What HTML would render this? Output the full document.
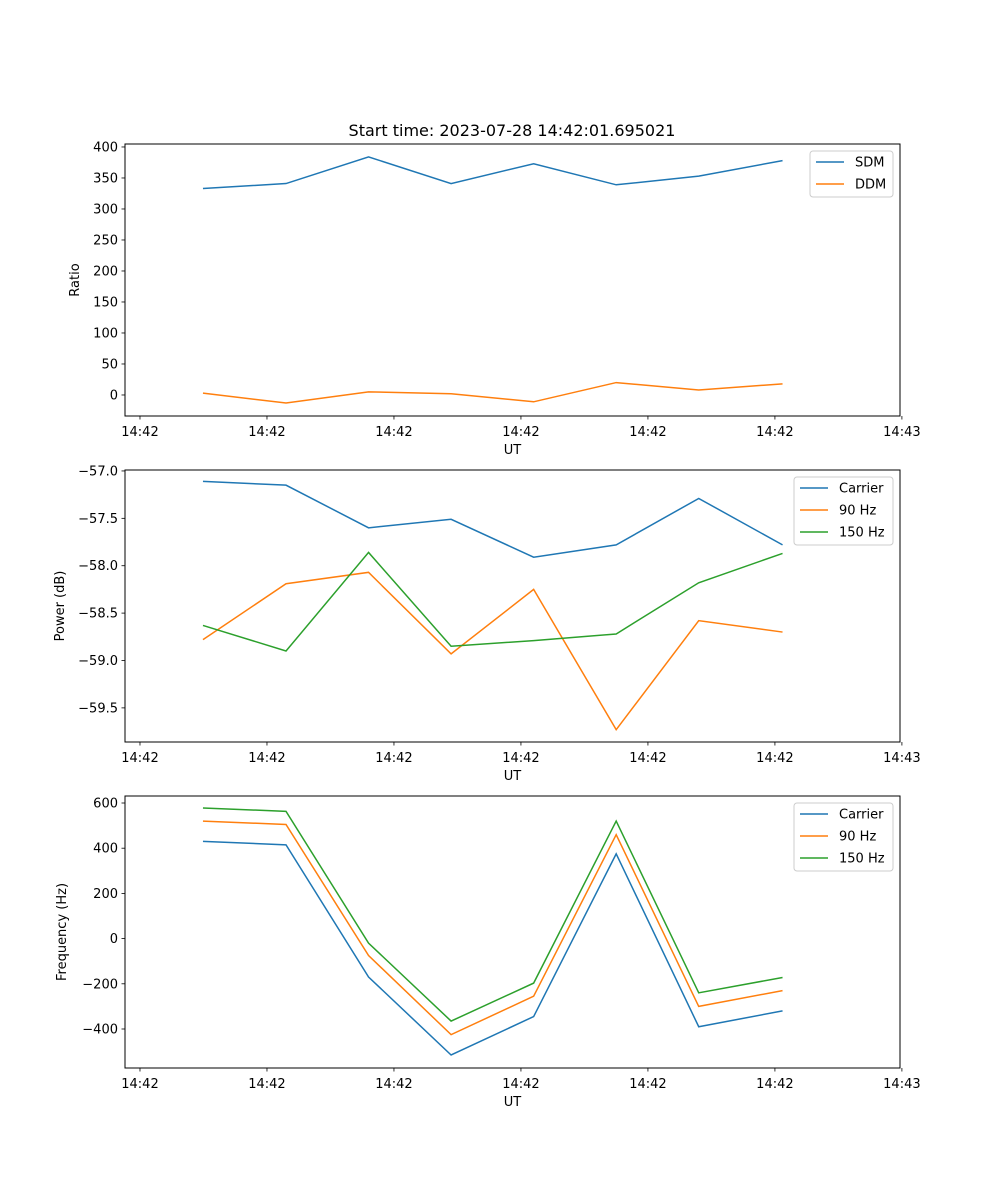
<!DOCTYPE html>
<html><head><meta charset="utf-8"><style>
body{margin:0;background:#fff;}
svg{display:block;font-family:"DejaVu Sans","Liberation Sans",sans-serif;}
</style></head><body>
<svg id="fig" width="1000" height="1200" viewBox="0 0 1000 1200"></svg>
<script>
// shared x data (seconds after 14:42:00)
const times = [4.96, 11.5, 18.0, 24.5, 31.0, 37.5, 44.0, 50.6];
const xTicks = [0, 10, 20, 30, 40, 50, 60];
const xTickLabels = ["14:42","14:42","14:42","14:42","14:42","14:42","14:43"];
// panel 1
const sdm = [333, 341, 384, 341, 373, 339, 353, 378];
const ddm = [3, -13, 5, 2, -11, 20, 8, 18];
const ratioTicks = [0, 50, 100, 150, 200, 250, 300, 350, 400];
// panel 2
const powCarrier = [-57.11, -57.15, -57.60, -57.51, -57.91, -57.78, -57.29, -57.78];
const pow90 = [-58.78, -58.19, -58.07, -58.93, -58.25, -59.73, -58.58, -58.70];
const pow150 = [-58.63, -58.90, -57.86, -58.85, -58.79, -58.72, -58.18, -57.87];
const powTicks = [-59.5, -59.0, -58.5, -58.0, -57.5, -57.0];
// panel 3
const freqCarrier = [430, 415, -170, -515, -345, 375, -390, -320];
const freq90 = [520, 505, -75, -425, -255, 460, -300, -230];
const freq150 = [578, 563, -20, -365, -197, 520, -240, -172];
const freqTicks = [-400, -200, 0, 200, 400, 600];

const NS = "http://www.w3.org/2000/svg";
const svg = document.getElementById('fig');
function mk(tag, attrs, parent){const e=document.createElementNS(NS,tag);for(const k in attrs)e.setAttribute(k,attrs[k]);(parent||svg).appendChild(e);return e;}
const L=125,R=900,XMIN=-1.18,XMAX=59.85;
const sx=v=>L+(v-XMIN)/(XMAX-XMIN)*(R-L);

function panel(name, top, bottom, ymin, ymax, yticks, fmt, ylabel, labelOff, series, legendW){
  const g=mk('g',{});
  
  
  const sy=v=>bottom-(v-ymin)/(ymax-ymin)*(bottom-top);
  series.forEach(s=>{
    const p=mk('polyline',{points:times.map((t,i)=>sx(t)+','+sy(s.v[i])).join(' '),fill:'none',stroke:s.c,'stroke-width':1.5},g);
    
    
  });
  const fr=mk('rect',{x:L,y:top,width:R-L,height:bottom-top,fill:'none',stroke:'#000','stroke-width':1},g);
  
  
  xTicks.forEach((t,i)=>{
    const x=sx(t);
    mk('line',{x1:x,x2:x,y1:bottom,y2:bottom+3.5,stroke:'#000','stroke-width':0.8},g);
    const tx=mk('text',{x:x,y:bottom+20,'font-size':13,'text-anchor':'middle'},g);
    tx.textContent=xTickLabels[i];
    
    
  });
  yticks.forEach(v=>{
    const y=sy(v);
    mk('line',{x1:L-3.5,x2:L,y1:y,y2:y,stroke:'#000','stroke-width':0.8},g);
    const tx=mk('text',{x:L-7,y:y+4.5,'font-size':13,'text-anchor':'end'},g);
    tx.textContent=fmt(v);
    
    
  });
  const xl=mk('text',{x:(L+R)/2,y:bottom+38,'font-size':13,'text-anchor':'middle'},g);
  xl.textContent='UT';
  
  
  const yl=mk('text',{x:0,y:0,'font-size':13,'text-anchor':'middle',transform:`translate(${L-labelOff},${(top+bottom)/2}) rotate(-90)`},g);
  yl.textContent=ylabel;
  
  
  // legend
  const lx=R-7-legendW, ly=top+7, lh=series.length*22+2;
  const lg=mk('g',{},g);
  
  
  mk('rect',{x:lx,y:ly,width:legendW,height:lh,rx:3,fill:'#fff','fill-opacity':0.8,stroke:'#ccc','stroke-width':1},lg);
  series.forEach((s,i)=>{
    const yy=ly+11+i*22;
    mk('line',{x1:lx+6,x2:lx+34,y1:yy,y2:yy,stroke:s.c,'stroke-width':1.5},lg);
    const t=mk('text',{x:lx+45,y:yy+4.5,'font-size':13},lg);
    t.textContent=s.label;
    
    
  });
}
const B='#1f77b4',O='#ff7f0e',G='#2ca02c';
panel('ratio',144,416,-33.9,404.8,ratioTicks,v=>String(v),'Ratio',46,
  [{id:'sdm',label:'SDM',v:sdm,c:B},{id:'ddm',label:'DDM',v:ddm,c:O}],83);
panel('power',470,742,-59.86,-56.99,powTicks,v=>(v<0?'\u2212':'')+Math.abs(v).toFixed(1),'Power (dB)',61,
  [{id:'carrier',label:'Carrier',v:powCarrier,c:B},{id:'90hz',label:'90 Hz',v:pow90,c:O},{id:'150hz',label:'150 Hz',v:pow150,c:G}],99);
panel('frequency',796,1068,-572.6,631,freqTicks,v=>(v<0?'\u2212':'')+Math.abs(v),'Frequency (Hz)',59,
  [{id:'carrier',label:'Carrier',v:freqCarrier,c:B},{id:'90hz',label:'90 Hz',v:freq90,c:O},{id:'150hz',label:'150 Hz',v:freq150,c:G}],99);
const title=mk('text',{x:512,y:136,'font-size':16,'text-anchor':'middle'});
title.textContent='Start time: 2023-07-28 14:42:01.695021';


</script>
</body></html>
